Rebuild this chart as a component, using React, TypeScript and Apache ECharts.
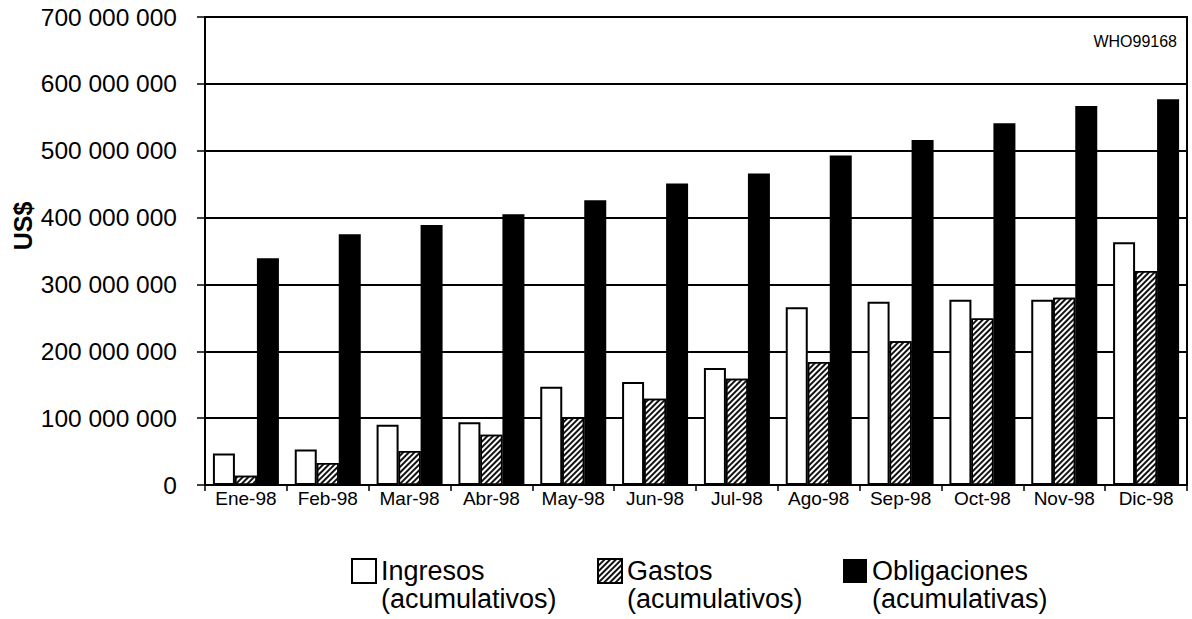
import React, { useEffect, useRef } from "react";
import * as echarts from "echarts";

const categories = ["Ene-98", "Feb-98", "Mar-98", "Abr-98", "May-98", "Jun-98", "Jul-98", "Ago-98", "Sep-98", "Oct-98", "Nov-98", "Dic-98"];
const ingresos = [47000000, 53000000, 90000000, 94000000, 147000000, 154000000, 175000000, 266000000, 274000000, 277000000, 277000000, 363000000];
const gastos = [14000000, 33000000, 51000000, 75000000, 101000000, 129000000, 159000000, 184000000, 215000000, 249000000, 280000000, 320000000];
const obligaciones = [339000000, 375000000, 389000000, 405000000, 426000000, 451000000, 466000000, 493000000, 516000000, 541000000, 567000000, 577000000];
const seriesNames = ["Ingresos\n(acumulativos)", "Gastos\n(acumulativos)", "Obligaciones\n(acumulativas)"];
const yTicks = { min: 0, max: 700000000, interval: 100000000 };

const FONT = "'Liberation Sans', Arial, sans-serif";

function fmt(v: number): string {
  const s = String(Math.round(v));
  return s.replace(/\B(?=(\d{3})+(?!\d))/g, " ");
}

export default function App() {
  const ref = useRef<HTMLDivElement>(null);
  useEffect(() => {
    if (!ref.current) return;
    const chart = echarts.init(ref.current, undefined, { renderer: "svg" });
    const legendBase = {
      orient: "horizontal" as const,
      itemWidth: 24,
      itemHeight: 24,
      itemGap: 0,
      icon: "rect",
      formatter: (name: string) => "\n" + name,
      textStyle: {
        fontFamily: FONT,
        fontSize: 27,
        color: "#000",
        lineHeight: 28,
      },
      selectedMode: false,
    };
    chart.setOption({
      animation: false,
      textStyle: { fontFamily: FONT },
      grid: {
        left: 205,
        right: 5,
        top: 17,
        bottom: 134,
        show: true,
        borderColor: "#000",
        borderWidth: 2,
        backgroundColor: "transparent",
      },
      legend: [
        { ...legendBase, data: [seriesNames[0]], left: 346, top: 524 },
        { ...legendBase, data: [seriesNames[1]], left: 592, top: 524 },
        { ...legendBase, data: [seriesNames[2]], left: 838, top: 524 },
      ],
      xAxis: {
        type: "category",
        data: categories,
        axisLine: { lineStyle: { color: "#000", width: 2 } },
        axisTick: { show: true, length: 6, lineStyle: { color: "#000", width: 1.5 } },
        axisLabel: { color: "#000", fontSize: 19, fontFamily: FONT, margin: 4, interval: 0 },
        splitLine: { show: false },
      },
      yAxis: {
        type: "value",
        min: yTicks.min,
        max: yTicks.max,
        interval: yTicks.interval,
        axisLine: { show: true, lineStyle: { color: "#000", width: 2 } },
        axisTick: { show: true, length: 8, lineStyle: { color: "#000", width: 1.5 } },
        axisLabel: { color: "#000", fontSize: 24.5, fontFamily: FONT, margin: 28, formatter: (v: number) => fmt(v) },
        splitLine: { show: true, lineStyle: { color: "#000", width: 2 } },
      },
      graphic: [
        {
          type: "text",
          x: 23,
          y: 226,
          rotation: Math.PI / 2,
          style: {
            text: "US$",
            fontFamily: FONT,
            fontSize: 25,
            fontWeight: "bold",
            fill: "#000",
            textAlign: "center",
            textVerticalAlign: "middle",
          },
        },
        {
          type: "text",
          x: 1177,
          y: 41,
          style: {
            text: "WHO99168",
            fontFamily: FONT,
            fontSize: 16,
            fill: "#000",
            textAlign: "right",
            textVerticalAlign: "middle",
          },
        },
      ],
      series: [
        {
          name: seriesNames[0],
          type: "bar",
          data: ingresos,
          barWidth: 22,
          barGap: "0%",
          itemStyle: { color: "#fff", borderColor: "#000", borderWidth: 2 },
        },
        {
          name: seriesNames[1],
          type: "bar",
          data: gastos,
          barWidth: 22,
          barGap: "0%",
          itemStyle: {
            color: "#fff",
            borderColor: "#000",
            borderWidth: 1.5,
            decal: {
              symbol: "rect",
              symbolSize: 1,
              color: "#111",
              backgroundColor: "#fff",
              dashArrayX: [1, 0],
              dashArrayY: [2, 2],
              rotation: -Math.PI / 4,
            },
          },
        },
        {
          name: seriesNames[2],
          type: "bar",
          data: obligaciones,
          barWidth: 22,
          barGap: "0%",
          itemStyle: { color: "#000" },
        },
      ],
    });
    return () => chart.dispose();
  }, []);
  return (
    <div
      ref={ref}
      style={{ position: "fixed", left: 0, top: 0, width: 1192, height: 619, background: "#fff" }}
    />
  );
}
